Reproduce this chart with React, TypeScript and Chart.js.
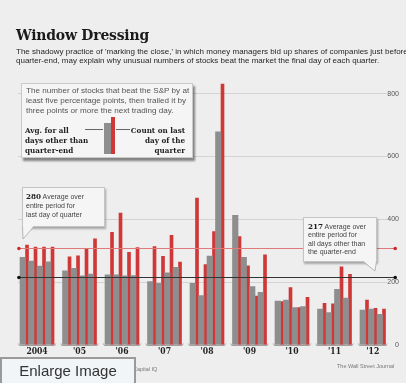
import React, { useEffect, useRef } from 'react';
import { Chart, registerables } from 'chart.js';

Chart.register(...registerables);

// ---- data ----
const YEARS = ['2004', "'05", "'06", "'07", "'08", "'09", "'10", "'11", "'12"];
const QUARTERS_PER_YEAR = [4, 4, 4, 4, 4, 4, 4, 4, 3];
// Avg. for all days other than quarter-end (grey bars)
const AVG_OTHER_DAYS = [
  279, 267, 251, 265,
  236, 244, 220, 226,
  223, 223, 220, 221,
  202, 196, 230, 247,
  196, 157, 283, 679,
  413, 279, 186, 168,
  140, 143, 119, 122,
  114, 103, 177, 149,
  111, 114, 98,
];
// Count on last day of the quarter (red bars)
const LAST_DAY_COUNT = [
  318, 312, 312, 312,
  281, 284, 308, 338,
  359, 420, 295, 310,
  313, 282, 349, 264,
  468, 256, 361, 831,
  345, 252, 156, 287,
  138, 183, 119, 152,
  133, 131, 249, 225,
  143, 117, 114,
];
const REF_LAST_DAY = 310; // drawn level of the "280" line
const REF_OTHER_DAYS = 217;
const Y_TICKS = [0, 200, 400, 600, 800];

const BG = '#eeeeee';
const GREY = '#8e8e8e';
const RED = '#d03838';

export default function App() {
  const ref = useRef<HTMLCanvasElement>(null);

  useEffect(() => {
    const slots: number[] = [];
    const groups: { start: number; n: number }[] = [];
    let s = 0;
    QUARTERS_PER_YEAR.forEach((n) => {
      groups.push({ start: s, n });
      for (let q = 0; q < n; q++) slots.push(s + q);
      s += n + 1;
    });
    const GRAY_OFF = 0.3235;
    const RED_OFF = 0.8235;
    const centers = groups.map((g) => g.start + g.n / 2);

    const refLinesPlugin = {
      id: 'refLines',
      afterDatasetsDraw(chart: any) {
        const { ctx, chartArea, scales } = chart;
        const y = scales.y;
        const lines = [
          { v: REF_LAST_DAY, stroke: '#e07a7a', dot: '#cc2a2a' },
          { v: REF_OTHER_DAYS, stroke: '#333333', dot: '#111111' },
        ];
        ctx.save();
        lines.forEach((l) => {
          const py = Math.round(y.getPixelForValue(l.v)) + 0.5;
          const x0 = chartArea.left + 1;
          const x1 = chartArea.right + 8;
          ctx.strokeStyle = l.stroke;
          ctx.lineWidth = 1;
          ctx.beginPath();
          ctx.moveTo(x0, py);
          ctx.lineTo(x1, py);
          ctx.stroke();
          ctx.fillStyle = l.dot;
          [x0, x1].forEach((px) => {
            ctx.beginPath();
            ctx.arc(px, py, 1.8, 0, Math.PI * 2);
            ctx.fill();
          });
        });
        ctx.restore();
      },
    };

    const baselinePlugin = {
      id: 'groupBaseline',
      afterDatasetsDraw(chart: any) {
        const { ctx, scales } = chart;
        const x = scales.x;
        const yb = Math.round(scales.y.getPixelForValue(0)) + 0.5;
        ctx.save();
        ctx.strokeStyle = '#a0a0a0';
        ctx.lineWidth = 1;
        groups.forEach((g) => {
          const x0 = x.getPixelForValue(g.start - 0.2);
          const x1 = x.getPixelForValue(g.start + g.n + 0.2);
          ctx.beginPath();
          ctx.moveTo(x0, yb - 2);
          ctx.lineTo(x0 + 1, yb);
          ctx.lineTo(x1 - 1, yb);
          ctx.lineTo(x1, yb - 2);
          ctx.stroke();
        });
        ctx.restore();
      },
    };

    const chart = new Chart(ref.current as HTMLCanvasElement, {
      type: 'bar',
      data: {
        datasets: [
          {
            label: 'Avg. for all days other than quarter-end',
            data: slots.map((p, i) => ({ x: p + GRAY_OFF, y: AVG_OTHER_DAYS[i] })),
            backgroundColor: GREY,
            borderWidth: 0,
            barThickness: 5.5,
            stack: 'q',
          } as any,
          {
            label: 'Count on last day of the quarter',
            data: slots.map((p, i) => ({ x: p + RED_OFF, y: LAST_DAY_COUNT[i] })),
            backgroundColor: RED,
            borderWidth: 0,
            barThickness: 3,
            stack: 'q',
          } as any,
        ],
      },
      options: {
        animation: false,
        responsive: false,
        maintainAspectRatio: false,
        layout: { padding: { left: 17.9, top: 78, right: 7, bottom: 0 } },
        plugins: { legend: { display: false }, tooltip: { enabled: false } },
        scales: {
          x: {
            type: 'linear',
            min: -0.25,
            max: 43.2,
            offset: false,
            grid: { display: false, drawTicks: false, tickLength: 0 },
            border: { display: false },
            afterBuildTicks: (sc: any) => {
              sc.ticks = centers.map((v) => ({ value: v }));
            },
            afterFit: (sc: any) => {
              sc.height = 38;
            },
            ticks: {
              autoSkip: false,
              maxRotation: 0,
              padding: 2,
              color: '#222',
              font: { family: '"DejaVu Serif Condensed", "DejaVu Serif", serif', weight: 'bold', size: 8.5 },
              callback: (_v: any, i: number) => YEARS[i],
            },
          } as any,
          y: {
            position: 'right',
            min: 0,
            max: 850,
            stacked: false,
            afterBuildTicks: (sc: any) => {
              sc.ticks = Y_TICKS.map((v) => ({ value: v }));
            },
            afterFit: (sc: any) => {
              sc.width = 11.8;
            },
            grid: {
              drawTicks: false,
              tickLength: 0,
              color: (c: any) => (c.tick && c.tick.value === 0 ? 'rgba(0,0,0,0)' : '#d3d3d3'),
            },
            border: { display: false },
            ticks: {
              crossAlign: 'far',
              padding: 0,
              color: '#555',
              font: { family: '"Liberation Sans", Arial, sans-serif', size: 7 },
            },
          } as any,
        },
      },
      plugins: [refLinesPlugin, baselinePlugin],
    });
    return () => chart.destroy();
  }, []);

  const serifBold = '"DejaVu Serif Condensed", "DejaVu Serif", serif';
  const sans = '"Liberation Sans", Arial, sans-serif';

  const abs = (l: number, t: number, extra: React.CSSProperties = {}): React.CSSProperties => ({
    position: 'absolute',
    left: l,
    top: t,
    ...extra,
  });

  return (
    <div
      style={{
        position: 'fixed',
        left: 0,
        top: 0,
        width: 406,
        height: 383,
        background: BG,
        overflow: 'hidden',
        fontFamily: sans,
      }}
    >
      <canvas ref={ref} width={406} height={383} style={abs(0, 0, { width: 406, height: 383 })} />

      {/* title */}
      <div style={abs(16, 25, { font: `bold 15.5px ${serifBold}`, color: '#1a1a1a', whiteSpace: 'nowrap', letterSpacing: -0.2 })}>
        Window Dressing
      </div>
      <div style={abs(16, 46.5, { fontSize: 8, lineHeight: '9px', color: '#262626', whiteSpace: 'nowrap' })}>
        The shadowy practice of 'marking the close,' in which money managers bid up shares of companies just before
        <br />
        quarter-end, may explain why unusual numbers of stocks beat the market the final day of each quarter.
      </div>

      {/* legend box */}
      <div
        style={abs(21, 83, {
          width: 172,
          height: 75,
          background: '#f5f5f5',
          border: '1px solid #c9c9c9',
          boxShadow: '2px 3px 2px rgba(0,0,0,0.45)',
          boxSizing: 'border-box',
        })}
      />
      <div style={abs(26, 86, { fontSize: 8.1, lineHeight: '10px', color: '#555', whiteSpace: 'nowrap' })}>
        The number of stocks that beat the S&amp;P by at
        <br />
        least five percentage points, then trailed it by
        <br />
        three points or more the next trading day.
      </div>
      <div style={abs(25, 125, { font: `bold 8px/10px ${serifBold}`, color: '#1e1e1e', whiteSpace: 'nowrap' })}>
        Avg. for all
        <br />
        days other than
        <br />
        quarter-end
      </div>
      <div
        style={abs(120, 125, {
          width: 65,
          textAlign: 'right',
          font: `bold 8px/10px ${serifBold}`,
          color: '#1e1e1e',
          whiteSpace: 'nowrap',
        })}
      >
        Count on last
        <br />
        day of the
        <br />
        quarter
      </div>
      <div style={abs(85, 129, { width: 18, height: 1, background: '#666' })} />
      <div style={abs(116, 129, { width: 14, height: 1, background: '#666' })} />
      <div style={abs(104, 123, { width: 7, height: 31, background: GREY })} />
      <div style={abs(111, 117, { width: 4, height: 37, background: RED })} />

      {/* annotation boxes */}
      <div
        style={abs(22, 187, {
          width: 83,
          height: 40,
          background: '#f5f5f5',
          border: '1px solid #c4c4c4',
          boxShadow: '1px 2px 2px rgba(0,0,0,0.3)',
          boxSizing: 'border-box',
        })}
      />
      <div
        style={abs(303, 217, {
          width: 74,
          height: 45,
          background: '#f5f5f5',
          border: '1px solid #c4c4c4',
          boxShadow: '1px 2px 2px rgba(0,0,0,0.3)',
          boxSizing: 'border-box',
        })}
      />
      <svg width={406} height={383} style={abs(0, 0, { pointerEvents: 'none' })}>
        <polygon points="22.5,225.5 34,225.5 23,239" fill="#f5f5f5" />
        <polyline points="22.5,226 23,239 34,226.5" fill="none" stroke="#b5b5b5" strokeWidth={1} />
        <polygon points="363,260.5 376.5,260.5 375,271" fill="#f5f5f5" />
        <polyline points="363,261.5 375,271 376.5,261" fill="none" stroke="#b5b5b5" strokeWidth={1} />
      </svg>
      <div style={abs(26, 191, { fontSize: 7, lineHeight: '9px', color: '#444', whiteSpace: 'nowrap' })}>
        <span style={{ font: `bold 8px ${serifBold}`, color: '#1e1e1e' }}>280</span> Average over
        <br />
        entire period for
        <br />
        last day of quarter
      </div>
      <div style={abs(308, 220.5, { fontSize: 7, lineHeight: '8.6px', color: '#444', whiteSpace: 'nowrap' })}>
        <span style={{ font: `bold 8px ${serifBold}`, color: '#1e1e1e' }}>217</span> Average over
        <br />
        entire period for
        <br />
        all days other than
        <br />
        the quarter-end
      </div>

      {/* footer */}
      <div style={abs(100, 366, { fontSize: 5.5, color: '#777', whiteSpace: 'nowrap' })}>Source: S&amp;P Capital IQ</div>
      <div style={abs(337, 363, { fontSize: 5.5, color: '#777', whiteSpace: 'nowrap' })}>The Wall Street Journal</div>
      <div
        style={abs(0, 357, {
          width: 136,
          height: 26,
          boxSizing: 'border-box',
          border: '2px solid #9a9a9a',
          borderBottom: 'none',
          background: '#f2f5f8',
          color: '#333',
          fontSize: 15,
          lineHeight: '24px',
          textAlign: 'center',
          fontFamily: sans,
        })}
      >
        Enlarge Image
      </div>
    </div>
  );
}
